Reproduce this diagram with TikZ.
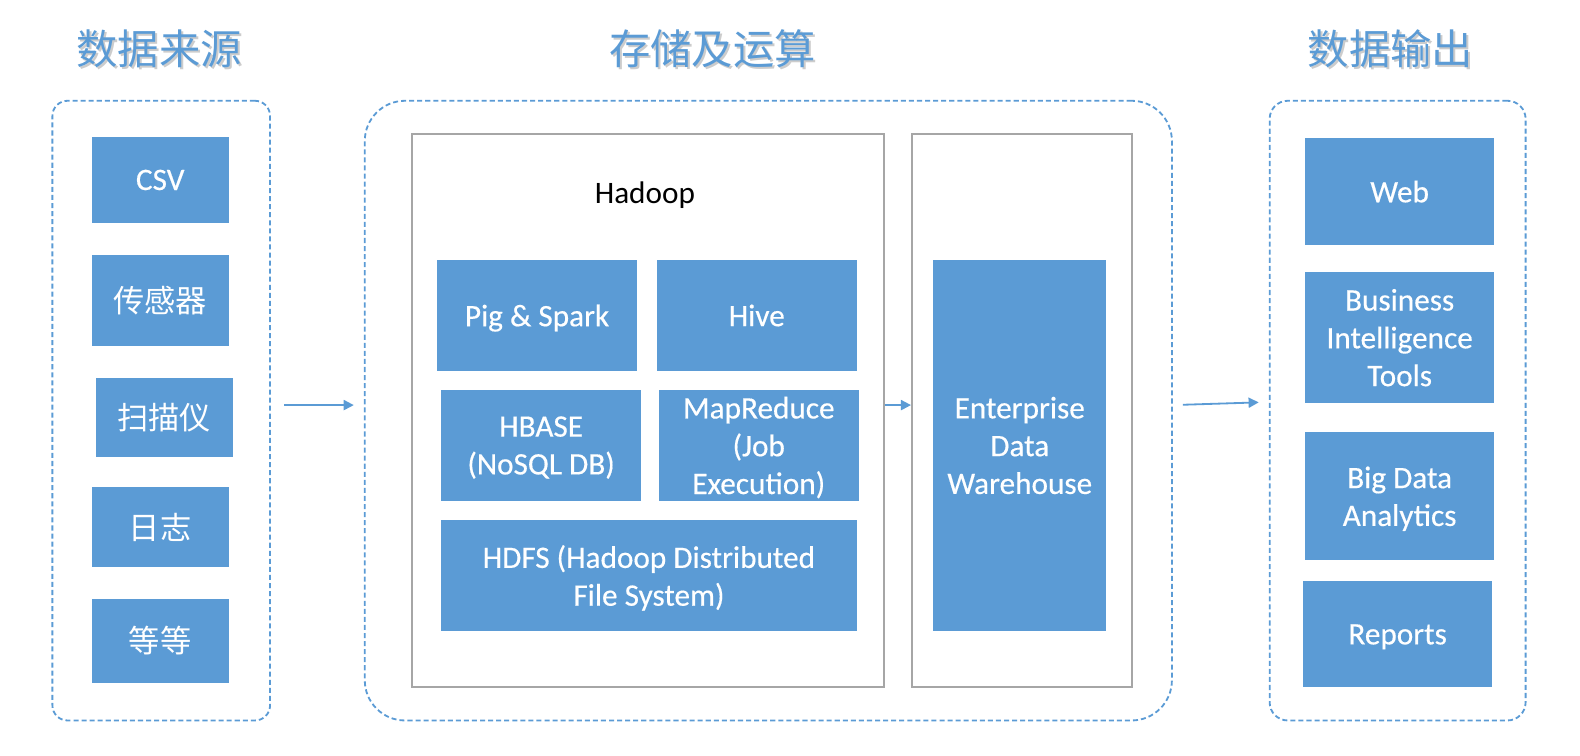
\documentclass[tikz,border=0pt]{standalone}
\usepackage{fontspec}
\setmainfont{Carlito}
\newfontfamily\boxfont{Carlito}[FakeBold=0.4]
\newfontfamily\cjk{Noto Sans CJK SC}
\usetikzlibrary{arrows.meta}
\definecolor{bblue}{HTML}{5B9BD5}
\definecolor{fgray}{HTML}{A6A6A6}
\begin{document}
\begin{tikzpicture}[x=1pt,y=-1pt,
  bluebox/.style={fill=bblue, text=white, align=center, inner sep=0pt, font=\boxfont\fontsize{31}{37.5}\selectfont},
  lat/.style={text depth=0pt},
  frame/.style={draw=fgray, line width=1.8pt, inner sep=0pt},
  group/.style={draw=bblue, dash pattern=on 5pt off 3pt, line width=1.8pt, inner sep=0pt},
  flow/.style={draw=bblue, line width=1.8pt, -{Triangle[length=10pt,width=10pt]}},
  title/.style={text=bblue, font=\cjk\fontsize{41}{45}\selectfont},
  shade/.style={text=black!20, font=\cjk\fontsize{41}{45}\selectfont}
]
\useasboundingbox (0,0) rectangle (1568,750);

% titles
\node[shade] (t1s) at (160,50) {数据来源};
\node[title] (t1) at (158,48) {数据来源};
\node[shade] (t2s) at (709,50) {存储及运算};
\node[title] (t2) at (707,48) {存储及运算};
\node[shade] (t3s) at (1382,50) {数据输出};
\node[title] (t3) at (1380,48) {数据输出};

% groups
\node[group, rounded corners=15pt, minimum width=216pt, minimum height=615pt] (src) at (160,407.5) {};
\node[group, rounded corners=40pt, minimum width=801pt, minimum height=615pt] (mid) at (762.5,407.5) {};
\node[group, rounded corners=18pt, minimum width=254pt, minimum height=615pt] (out) at (1387,407.5) {};

% sources
\node[bluebox, lat, minimum width=136pt, minimum height=85pt] (csv) at (159,178.5) {CSV};
\node[bluebox, minimum width=136pt, minimum height=90pt] (sensor) at (159,298) {\cjk 传感器};
\node[bluebox, minimum width=136pt, minimum height=79pt] (scan) at (163,414.5) {\cjk 扫描仪};
\node[bluebox, minimum width=136pt, minimum height=80pt] (log) at (159,523) {\cjk 日志};
\node[bluebox, minimum width=136pt, minimum height=84pt] (etc) at (159,636) {\cjk 等等};

% storage & compute
\node[frame, minimum width=468pt, minimum height=549pt] (hadoop) at (643,407.5) {};
\node[font=\fontsize{31}{37.5}\selectfont, text=black, text depth=0pt] (hadooplbl) at (640,191) {Hadoop};
\node[bluebox, lat, minimum width=198pt, minimum height=110pt] (pig) at (533,313) {Pig \& Spark};
\node[bluebox, lat, minimum width=198pt, minimum height=110pt] (hive) at (751,313) {Hive};
\node[bluebox, lat, minimum width=198pt, minimum height=110pt] (hbase) at (537,442) {HBASE\\(NoSQL DB)};
\node[bluebox, lat, minimum width=198pt, minimum height=110pt] (mr) at (753,442) {MapReduce\\(Job\\Execution)};
\node[bluebox, lat, minimum width=412pt, minimum height=110pt] (hdfs) at (644,571) {HDFS (Hadoop Distributed\\File System)};

\node[frame, minimum width=218pt, minimum height=549pt] (edwframe) at (1014,407.5) {};
\node[bluebox, lat, minimum width=172pt, minimum height=368pt] (edw) at (1012,442) {Enterprise\\Data\\Warehouse};

% outputs
\node[bluebox, lat, minimum width=188pt, minimum height=106pt] (web) at (1389,190) {Web};
\node[bluebox, lat, minimum width=188pt, minimum height=130pt] (bi) at (1389,335) {Business\\Intelligence\\Tools};
\node[bluebox, lat, minimum width=188pt, minimum height=127pt] (bda) at (1389,492.5) {Big Data\\Analytics};
\node[bluebox, lat, minimum width=188pt, minimum height=105pt] (rep) at (1387,629.5) {Reports};

% connectors
\draw[flow, shorten <=13pt, shorten >=10pt] ([yshift=5.5pt]src.east) -- ([yshift=5.5pt]mid.west);
\draw[flow] ([yshift=5.5pt]hadoop.east) -- ([yshift=5.5pt]edwframe.west);
\draw[flow, shorten <=10pt, shorten >=10pt] ([yshift=5.5pt]mid.east) -- ([yshift=8.5pt]out.west);
\end{tikzpicture}
\end{document}
